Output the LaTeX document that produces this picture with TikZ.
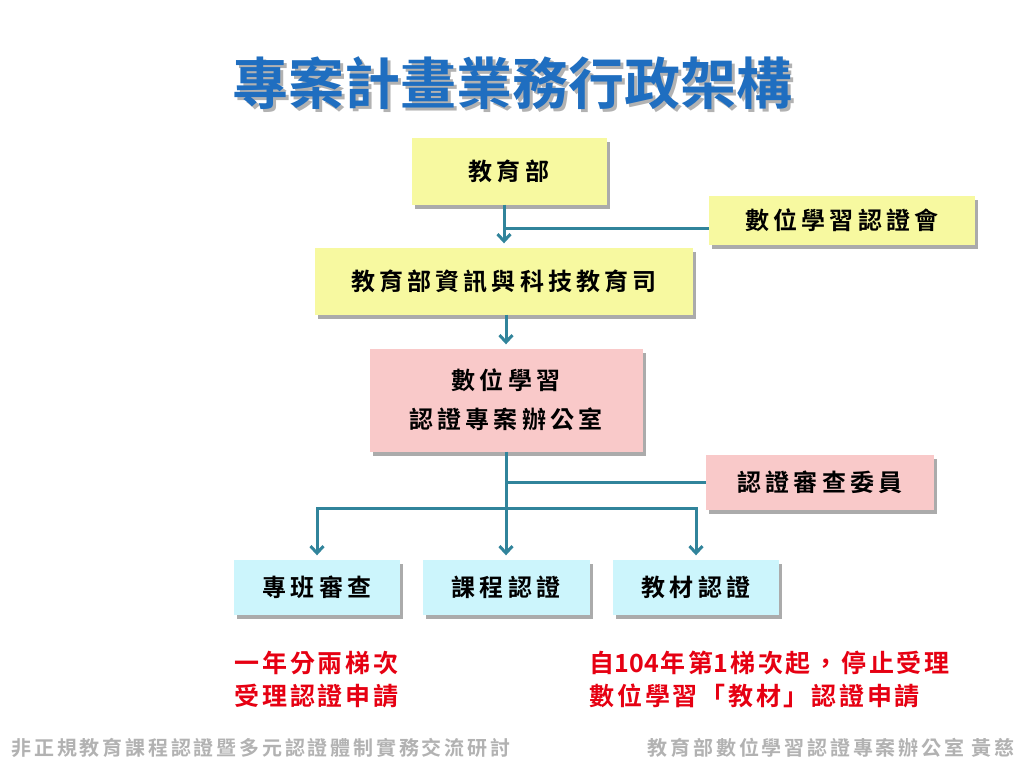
\documentclass[tikz,border=0pt]{standalone}
\usepackage{fontspec}
\setmainfont{Noto Sans CJK TC}
\newfontfamily\titlefont{Noto Sans CJK TC Bold}
\newfontfamily\boxfont[LetterSpace=17]{Noto Sans CJK TC Bold}
\newfontfamily\notefont[LetterSpace=11]{Noto Sans CJK TC Bold}
\newfontfamily\digitfont{Noto Sans CJK TC Bold}
\newfontfamily\footfont[LetterSpace=14]{Noto Sans CJK TC Bold}
\usetikzlibrary{arrows.meta,shadows}
\definecolor{boxyellow}{HTML}{F7F9A0}
\definecolor{boxpink}{HTML}{F9C9C9}
\definecolor{boxcyan}{HTML}{CCF5FC}
\definecolor{linkteal}{HTML}{31849B}
\definecolor{titleblue}{HTML}{1F6EC0}
\definecolor{notered}{HTML}{E60012}
\def\drawlink{\draw[color=linkteal, line width=3pt]}
\def\orgnode{\node[orgbox]}
\newcommand\titletext{專案計畫業務行政架構}
\newcommand\num[1]{{\digitfont #1}\hspace{2pt}}
\tikzset{
  orgbox/.style={inner sep=0pt, align=center,
    font=\boxfont\fontsize{24}{39}\selectfont,
    drop shadow={shadow xshift=3pt, shadow yshift=-4pt, fill=black!60, opacity=.55}},
  tip/.style={-{Straight Barb[length=7pt,width=13pt]}, shorten >=4pt},
  notetext/.style={anchor=west, align=left, font=\notefont\fontsize{25}{33}\selectfont, text=notered},
  foottext/.style={font=\footfont\fontsize{20}{22}\selectfont, text=black!30}
}

\begin{document}
\begin{tikzpicture}[x=1pt,y=-1pt]
\useasboundingbox[fill=white] (0,0) rectangle (1024,768);
% title with its shadow
\node (title) [font=\titlefont\fontsize{56}{60}\selectfont, text=titleblue] at (512,85)
  {\rlap{\hspace{3pt}\raisebox{-3pt}{\color{black!30}\titletext}}\titletext};
% boxes
\orgnode[fill=boxyellow, minimum width=195pt, minimum height=67pt] (moe) at (509,171) {教育部};
\orgnode[fill=boxyellow, minimum width=266pt, minimum height=49pt] (council) at (842,220) {數位學習認證會};
\orgnode[fill=boxyellow, minimum width=378pt, minimum height=67pt] (dept) at (504,281) {教育部資訊與科技教育司};
\orgnode[fill=boxpink, minimum width=273pt, minimum height=103pt] (office) at (506,400) {數位學習\\認證專案辦公室};
\orgnode[fill=boxpink, minimum width=228pt, minimum height=55pt] (panel) at (820,482) {認證審查委員};
\orgnode[fill=boxcyan, minimum width=166pt, minimum height=55pt] (classrev) at (317,587) {專班審查};
\orgnode[fill=boxcyan, minimum width=167pt, minimum height=55pt] (course) at (506,587) {課程認證};
\orgnode[fill=boxcyan, minimum width=166pt, minimum height=55pt] (material) at (696,587) {教材認證};
% connectors
\coordinate (councilin) at (709,228);
\coordinate (panelin) at (706,482);
\coordinate (bus) at (506,508);
\drawlink[tip] (moe.south -| dept) -- (dept.north);
\drawlink (councilin) -- (councilin -| dept);
\drawlink[tip] (dept.south -| office) -- (office.north);
\drawlink[tip] (office.south) -- (course.north);
\drawlink (panelin) -- (panelin -| office);
\drawlink[tip] (bus) -| (classrev.north);
\drawlink[tip] (bus) -| (material.north);
% notes
\node (note1) [notetext] at (231,680) {一年分兩梯次\\受理認證申請};
\node (note2) [notetext] at (586,679) {自\num{104}年第\num{1}梯次起，停止受理\\數位學習「教材」認證申請};
% footer
\node (foot1) [foottext, anchor=west] at (8,748) {非正規教育課程認證暨多元認證體制實務交流研討};
\node (foot2) [foottext, anchor=east] at (1018,748) {教育部數位學習認證專案辦公室\ 黃慈};
\end{tikzpicture}
\end{document}
